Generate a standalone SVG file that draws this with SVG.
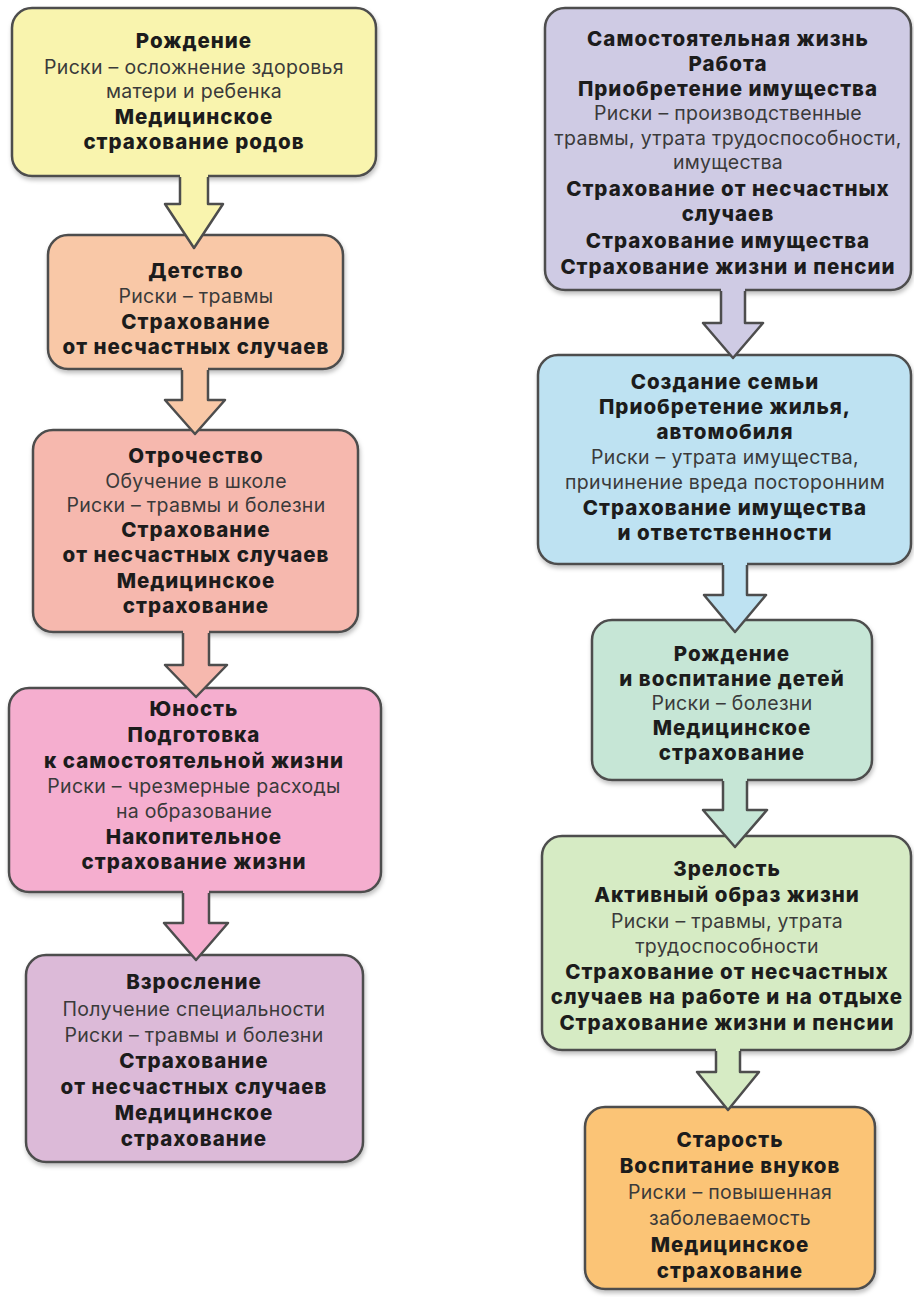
<svg xmlns="http://www.w3.org/2000/svg" width="914" height="1297" viewBox="0 0 914 1297">
<style>
.box{stroke:#4d4d4d;stroke-width:2.5}
.t{font-family:Inter,"Open Sans","DejaVu Sans",sans-serif;text-anchor:middle}
.b{font-weight:800;fill:#1c1c1c;font-size:20.5px;letter-spacing:1px}
.r{font-weight:400;fill:#3a3a3a;font-size:19.5px;letter-spacing:0.3px}
.af{stroke:none}
.as{fill:none;stroke:#4d4d4d;stroke-width:2.5;stroke-linejoin:round}
</style>
<defs>
<filter id="sh" x="-5%" y="-5%" width="110%" height="115%">
<feDropShadow dx="1" dy="3" stdDeviation="2" flood-color="#000" flood-opacity="0.25"/>
</filter>
</defs>
<rect width="914" height="1297" fill="#ffffff"/>

<g id="n1"><rect class="box" x="12" y="8" width="364" height="168" rx="20" fill="#F9F4AE" filter="url(#sh)"/>
<text class="t b" x="194" y="48">Рождение</text>
<text class="t r" x="194" y="74">Риски – осложнение здоровья</text>
<text class="t r" x="194" y="98">матери и ребенка</text>
<text class="t b" x="194" y="124">Медицинское</text>
<text class="t b" x="194" y="149">страхование родов</text></g>

<g id="n2"><rect class="box" x="48" y="235" width="295" height="134" rx="20" fill="#F9C8A7" filter="url(#sh)"/>
<text class="t b" x="196" y="278">Детство</text>
<text class="t r" x="196" y="303">Риски – травмы</text>
<text class="t b" x="196" y="329">Страхование</text>
<text class="t b" x="196" y="354">от несчастных случаев</text></g>

<g id="n3"><rect class="box" x="33" y="430" width="325" height="202" rx="20" fill="#F6B8AE" filter="url(#sh)"/>
<text class="t b" x="196" y="463">Отрочество</text>
<text class="t r" x="196" y="488">Обучение в школе</text>
<text class="t r" x="196" y="512">Риски – травмы и болезни</text>
<text class="t b" x="196" y="537">Страхование</text>
<text class="t b" x="196" y="562">от несчастных случаев</text>
<text class="t b" x="196" y="588">Медицинское</text>
<text class="t b" x="196" y="613">страхование</text></g>

<g id="n4"><rect class="box" x="9" y="688" width="372" height="204" rx="20" fill="#F5AECF" filter="url(#sh)"/>
<text class="t b" x="194" y="716">Юность</text>
<text class="t b" x="194" y="742">Подготовка</text>
<text class="t b" x="194" y="768">к самостоятельной жизни</text>
<text class="t r" x="194" y="793">Риски – чрезмерные расходы</text>
<text class="t r" x="194" y="818">на образование</text>
<text class="t b" x="194" y="844">Накопительное</text>
<text class="t b" x="194" y="869">страхование жизни</text></g>

<g id="n5"><rect class="box" x="26" y="955" width="337" height="207" rx="20" fill="#DCBAD8" filter="url(#sh)"/>
<text class="t b" x="194" y="989">Взросление</text>
<text class="t r" x="194" y="1016">Получение специальности</text>
<text class="t r" x="194" y="1042">Риски – травмы и болезни</text>
<text class="t b" x="194" y="1068">Страхование</text>
<text class="t b" x="194" y="1094">от несчастных случаев</text>
<text class="t b" x="194" y="1120">Медицинское</text>
<text class="t b" x="194" y="1146">страхование</text></g>

<g id="m1"><rect class="box" x="545" y="8" width="366" height="282" rx="20" fill="#CFCBE4" filter="url(#sh)"/>
<text class="t b" x="728" y="46">Самостоятельная жизнь</text>
<text class="t b" x="728" y="71">Работа</text>
<text class="t b" x="728" y="96">Приобретение имущества</text>
<text class="t r" x="728" y="120">Риски – производственные</text>
<text class="t r" x="728" y="145">травмы, утрата трудоспособности,</text>
<text class="t r" x="728" y="169">имущества</text>
<text class="t b" x="728" y="196">Страхование от несчастных</text>
<text class="t b" x="728" y="221">случаев</text>
<text class="t b" x="728" y="248">Страхование имущества</text>
<text class="t b" x="728" y="274">Страхование жизни и пенсии</text></g>

<g id="m2"><rect class="box" x="538" y="355" width="373" height="209" rx="20" fill="#BEE2F2" filter="url(#sh)"/>
<text class="t b" x="725" y="389">Создание семьи</text>
<text class="t b" x="725" y="414">Приобретение жилья,</text>
<text class="t b" x="725" y="439">автомобиля</text>
<text class="t r" x="725" y="464">Риски – утрата имущества,</text>
<text class="t r" x="725" y="489">причинение вреда посторонним</text>
<text class="t b" x="725" y="515">Страхование имущества</text>
<text class="t b" x="725" y="540">и ответственности</text></g>

<g id="m3"><rect class="box" x="592" y="620" width="280" height="160" rx="20" fill="#C6E6D6" filter="url(#sh)"/>
<text class="t b" x="732" y="661">Рождение</text>
<text class="t b" x="732" y="686">и воспитание детей</text>
<text class="t r" x="732" y="710">Риски – болезни</text>
<text class="t b" x="732" y="735">Медицинское</text>
<text class="t b" x="732" y="760">страхование</text></g>

<g id="m4"><rect class="box" x="542" y="836" width="369" height="214" rx="20" fill="#D6EBC4" filter="url(#sh)"/>
<text class="t b" x="727" y="876">Зрелость</text>
<text class="t b" x="727" y="902">Активный образ жизни</text>
<text class="t r" x="727" y="928">Риски – травмы, утрата</text>
<text class="t r" x="727" y="953">трудоспособности</text>
<text class="t b" x="727" y="979">Страхование от несчастных</text>
<text class="t b" x="727" y="1004">случаев на работе и на отдыхе</text>
<text class="t b" x="727" y="1030">Страхование жизни и пенсии</text></g>

<g id="m5"><rect class="box" x="585" y="1107" width="290" height="182" rx="20" fill="#FBC476" filter="url(#sh)"/>
<text class="t b" x="730" y="1147">Старость</text>
<text class="t b" x="730" y="1173">Воспитание внуков</text>
<text class="t r" x="730" y="1199">Риски – повышенная</text>
<text class="t r" x="730" y="1225">заболеваемость</text>
<text class="t b" x="730" y="1252">Медицинское</text>
<text class="t b" x="730" y="1278">страхование</text></g>

<g id="connectors">
<g fill="#F9F4AE"><polygon class="af" points="180,173 208,173 208,204 223,204 194,248 165,204 180,204"/><polyline class="as" points="180,177 180,204 165,204 194,248 223,204 208,204 208,177"/></g>
<g fill="#F9C8A7"><polygon class="af" points="182,366 208,366 208,400 225,400 195,434 165,400 182,400"/><polyline class="as" points="182,370 182,400 165,400 195,434 225,400 208,400 208,370"/></g>
<g fill="#F6B8AE"><polygon class="af" points="183,629 209,629 209,665 227,665 196,697 165,665 183,665"/><polyline class="as" points="183,633 183,665 165,665 196,697 227,665 209,665 209,633"/></g>
<g fill="#F5AECF"><polygon class="af" points="183,889 209,889 209,923 228,923 196,960 164,923 183,923"/><polyline class="as" points="183,893 183,923 164,923 196,960 228,923 209,923 209,893"/></g>
<g fill="#CFCBE4"><polygon class="af" points="721,287 745,287 745,323 763,323 733,358 703,323 721,323"/><polyline class="as" points="721,291 721,323 703,323 733,358 763,323 745,323 745,291"/></g>
<g fill="#BEE2F2"><polygon class="af" points="723,561 747,561 747,595 766,595 735,632 704,595 723,595"/><polyline class="as" points="723,565 723,595 704,595 735,632 766,595 747,595 747,565"/></g>
<g fill="#C6E6D6"><polygon class="af" points="723,777 747,777 747,810 767,810 735,847 703,810 723,810"/><polyline class="as" points="723,781 723,810 703,810 735,847 767,810 747,810 747,781"/></g>
<g fill="#D6EBC4"><polygon class="af" points="716,1047 740,1047 740,1072 759,1072 728,1110 697,1072 716,1072"/><polyline class="as" points="716,1051 716,1072 697,1072 728,1110 759,1072 740,1072 740,1051"/></g>
</g>
</svg>
